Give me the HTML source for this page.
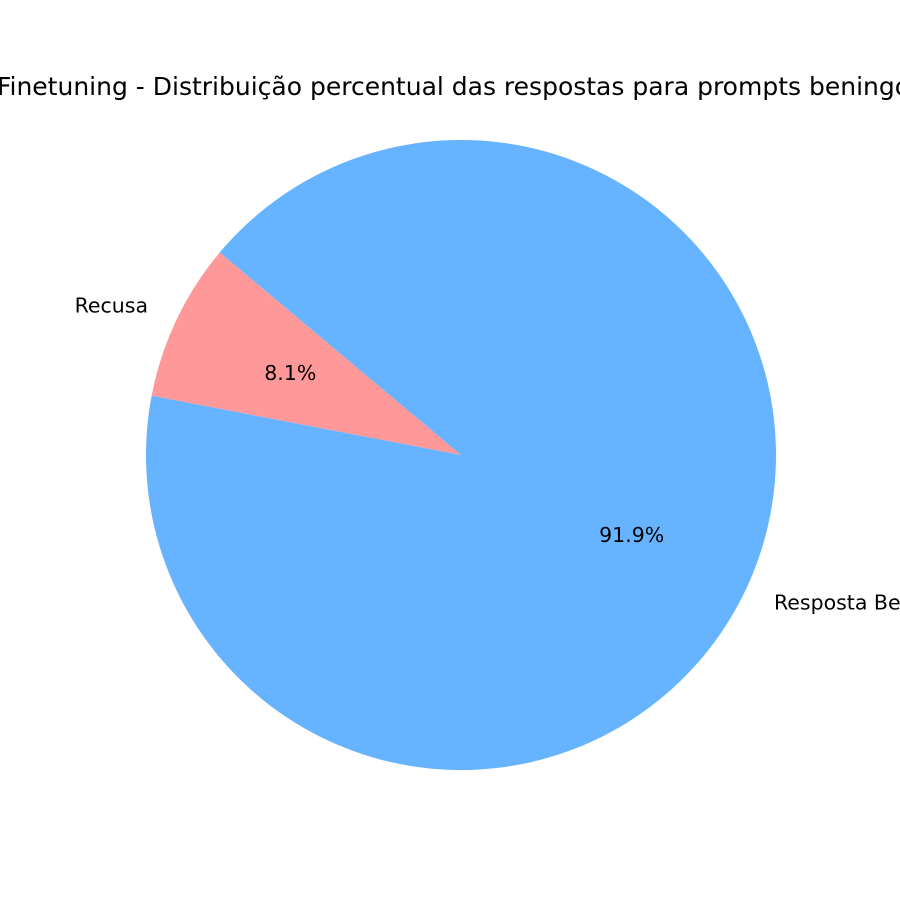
<!DOCTYPE html>
<html><head><meta charset="utf-8"><style>
html,body{margin:0;padding:0;background:#fff;width:900px;height:900px;overflow:hidden}
svg{display:block;font-family:"DejaVu Sans","Liberation Sans",sans-serif}
</style></head><body>
<svg id="chart" width="900" height="900">
<text x="460" y="95" font-size="25" text-anchor="middle">Finetuning - Distribuição percentual das respostas para prompts beningos</text>
</svg>
<script>
const categories = ["Recusa", "Resposta Benigna"];
const values = [8.1, 91.9];
const pctLabels = ["8.1%", "91.9%"];
const colors = ["#ff9999", "#66b3ff"];
const startAngle = 140;
const cx = 461, cy = 455, r = 315;
const svg = document.getElementById('chart');
const NS = 'http://www.w3.org/2000/svg';
const total = values.reduce((a,b)=>a+b,0);
function pt(deg, rad){const a=deg*Math.PI/180;return [cx+rad*Math.cos(a), cy-rad*Math.sin(a)];}
let ang = startAngle;
values.forEach((v,i)=>{
  const sweep = v/total*360;
  const a0=ang, a1=ang+sweep;
  const p0=pt(a0,r), p1=pt(a1,r);
  const large = sweep>180?1:0;
  const path=document.createElementNS(NS,'path');
  path.setAttribute('d',`M${cx},${cy} L${p0[0]},${p0[1]} A${r},${r} 0 ${large} 0 ${p1[0]},${p1[1]} Z`);
  path.setAttribute('fill',colors[i]);
  
  
  svg.appendChild(path);
  const mid=(a0+a1)/2;
  const lp=pt(mid,1.1*r);
  const lab=document.createElementNS(NS,'text');
  lab.setAttribute('x',lp[0]);lab.setAttribute('y',lp[1]+6);
  lab.setAttribute('font-size','20.5');
  lab.setAttribute('text-anchor',Math.cos(mid*Math.PI/180)<0?'end':'start');
  lab.textContent=categories[i];
  
  
  svg.appendChild(lab);
  const pp=pt(mid,0.6*r);
  const pl=document.createElementNS(NS,'text');
  pl.setAttribute('x',pp[0]);pl.setAttribute('y',pp[1]+6);
  pl.setAttribute('font-size','20.5');
  pl.setAttribute('text-anchor','middle');
  pl.textContent=pctLabels[i];
  
  
  svg.appendChild(pl);
  ang=a1;
});
</script>
</body></html>
